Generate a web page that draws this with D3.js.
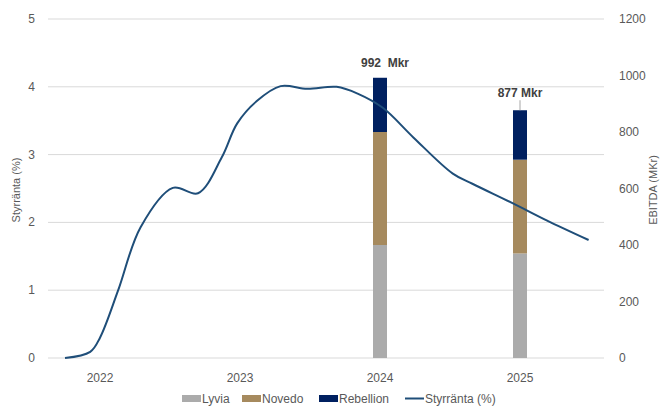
<!DOCTYPE html>
<html>
<head>
<meta charset="utf-8">
<script src="https://cdn.jsdelivr.net/npm/d3@7"></script>
<style>
  body { margin: 0; background: #fff; }
  text { font-family: "Liberation Sans", Arial, sans-serif; }
</style>
</head>
<body>
<div id="chart"></div>
<script>
// category axis
var years = ["2022", "2023", "2024", "2025"];

// EBITDA stacks (MKr), only 2024 and 2025 have bars
var barYears = ["2024", "2025"];
var lyvia = [400, 370];
var novedo = [400, 332];
var rebellion = [192, 175];
var totals = [992, 877];
var totalLabels = ["992  Mkr", "877 Mkr"];

// policy rate, fractional year vs %
var rateT = [2021.75, 2021.93, 2022.0, 2022.13, 2022.29, 2022.52, 2022.70, 2022.87, 2022.98, 2023.12, 2023.29, 2023.48, 2023.69, 2023.84, 2024.02, 2024.24, 2024.52, 2024.66, 2024.95, 2025.19, 2025.49];
var rateV = [0, 0.09, 0.3, 1.0, 1.93, 2.51, 2.43, 2.96, 3.46, 3.79, 4.01, 3.97, 4.0, 3.9, 3.69, 3.25, 2.72, 2.57, 2.28, 2.03, 1.74];

var leftTicks = [0, 1, 2, 3, 4, 5];
var rightTicks = [0, 200, 400, 600, 800, 1000, 1200];

var seriesNames = ["Lyvia", "Novedo", "Rebellion"];
var colors = { Lyvia: "#ababab", Novedo: "#a68a5e", Rebellion: "#002060" };
var lineColor = "#1f4e79";

var w = 663, h = 406;
var svg = d3.select("#chart").append("svg").attr("width", w).attr("height", h);

var gridLeft = 48, gridRight = 604, yTop = 19, yBottom = 358;

var x = d3.scaleBand().domain(years).range([30, 590]);
var xt = d3.scaleLinear().domain([2022, 2025]).range([x("2022") + x.bandwidth() / 2, x("2025") + x.bandwidth() / 2]);
var yL = d3.scaleLinear().domain([0, 5]).range([yBottom, yTop]);
var yR = d3.scaleLinear().domain([0, 1200]).range([yBottom, yTop]);

// gridlines
svg.append("g").selectAll("line").data(leftTicks).enter().append("line")
  .attr("x1", gridLeft).attr("x2", gridRight)
  .attr("y1", function(d) { return yL(d); }).attr("y2", function(d) { return yL(d); })
  .attr("stroke", "#d9d9d9").attr("stroke-width", 1);

// left axis labels
svg.append("g").selectAll("text").data(leftTicks).enter().append("text")
  .attr("x", 35).attr("y", function(d) { return yL(d) + 4; })
  .attr("text-anchor", "end").attr("font-size", 12).attr("fill", "#595959")
  .text(function(d) { return d; });

// right axis labels
svg.append("g").selectAll("text").data(rightTicks).enter().append("text")
  .attr("x", 619).attr("y", function(d) { return yR(d) + 4; })
  .attr("text-anchor", "start").attr("font-size", 12).attr("fill", "#595959")
  .text(function(d) { return d; });

// category labels
svg.append("g").selectAll("text").data(years).enter().append("text")
  .attr("x", function(d) { return x(d) + x.bandwidth() / 2; })
  .attr("y", 382).attr("text-anchor", "middle").attr("font-size", 12).attr("fill", "#595959")
  .text(function(d) { return d; });

// axis titles
svg.append("text").attr("transform", "translate(20,190) rotate(-90)")
  .attr("text-anchor", "middle").attr("font-size", 11).attr("fill", "#595959").text("Styrränta (%)");
svg.append("text").attr("transform", "translate(657,190) rotate(-90)")
  .attr("text-anchor", "middle").attr("font-size", 11).attr("fill", "#595959").text("EBITDA (MKr)");

// stacked bars
var barData = barYears.map(function(y, i) {
  return { year: y, Lyvia: lyvia[i], Novedo: novedo[i], Rebellion: rebellion[i] };
});
var stack = d3.stack().keys(seriesNames)(barData);
var barW = 14;

svg.append("g").selectAll("g").data(stack).enter().append("g")
  .attr("fill", function(d) { return colors[d.key]; })
  .selectAll("rect").data(function(d) { return d; }).enter().append("rect")
  .attr("x", function(d) { return x(d.data.year) + x.bandwidth() / 2 - barW / 2; })
  .attr("y", function(d) { return yR(d[1]); })
  .attr("width", barW)
  .attr("height", function(d) { return yR(d[0]) - yR(d[1]); });

// rate line
var lineData = rateT.map(function(t, i) { return [t, rateV[i]]; });
var line = d3.line()
  .x(function(d) { return xt(d[0]); })
  .y(function(d) { return yL(d[1]); })
  .curve(d3.curveCatmullRom.alpha(0.5));
svg.append("path").datum(lineData)
  .attr("d", line).attr("fill", "none")
  .attr("stroke", lineColor).attr("stroke-width", 2);

// total labels
barYears.forEach(function(y, i) {
  var cx = x(y) + x.bandwidth() / 2;
  var top = yR(totals[i]);
  var ly = i === 0 ? top - 11 : top - 13;
  if (i === 1) {
    svg.append("line").attr("x1", cx).attr("x2", cx)
      .attr("y1", top - 10).attr("y2", top)
      .attr("stroke", "#a6a6a6").attr("stroke-width", 1);
  }
  svg.append("text").attr("x", cx + (i === 0 ? 5 : 0)).attr("y", ly)
    .attr("text-anchor", "middle").attr("font-size", 12).attr("font-weight", "bold")
    .attr("fill", "#404040").style("white-space", "pre").text(totalLabels[i]);
});

// legend
var legendItems = [
  { name: "Lyvia", type: "box", x: 182 },
  { name: "Novedo", type: "box", x: 242 },
  { name: "Rebellion", type: "box", x: 319 },
  { name: "Styrränta (%)", type: "line", x: 405 }
];
var lg = svg.append("g").selectAll("g").data(legendItems).enter().append("g")
  .attr("transform", function(d) { return "translate(" + d.x + ",399)"; });
lg.filter(function(d) { return d.type === "box"; }).append("rect")
  .attr("x", 0).attr("y", -4).attr("width", 19).attr("height", 7)
  .attr("fill", function(d) { return colors[d.name]; });
lg.filter(function(d) { return d.type === "line"; }).append("line")
  .attr("x1", 0).attr("x2", 19).attr("y1", -0.5).attr("y2", -0.5)
  .attr("stroke", lineColor).attr("stroke-width", 2);
lg.append("text").attr("x", 20).attr("y", 4)
  .attr("font-size", 12).attr("fill", "#595959")
  .text(function(d) { return d.name; });
</script>
</body>
</html>
